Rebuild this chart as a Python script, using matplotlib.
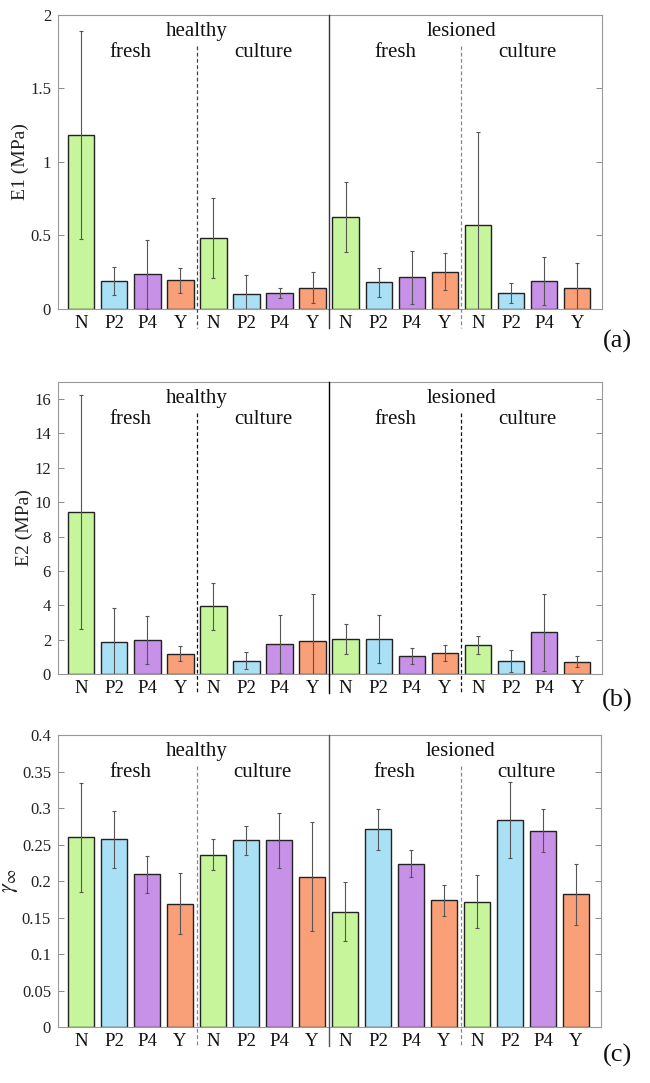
import matplotlib
matplotlib.use("Agg")
import matplotlib.pyplot as plt
from matplotlib.ticker import FixedLocator, FuncFormatter

# ---------------- data ----------------
bar_labels = ['N', 'P2', 'P4', 'Y'] * 4
conditions = ['healthy', 'lesioned']
subconditions = ['fresh', 'culture']

E1_mean = [1.184, 0.193, 0.236, 0.195, 0.481, 0.102, 0.109, 0.145,
           0.624, 0.181, 0.215, 0.254, 0.569, 0.109, 0.188, 0.143]
E1_std = [0.707, 0.095, 0.233, 0.087, 0.271, 0.127, 0.037, 0.104,
          0.238, 0.100, 0.180, 0.124, 0.637, 0.066, 0.163, 0.168]

E2_mean = [9.44, 1.84, 1.96, 1.18, 3.94, 0.78, 1.73, 1.94,
           2.04, 2.04, 1.03, 1.24, 1.71, 0.76, 2.42, 0.71]
E2_std = [6.82, 2.02, 1.40, 0.45, 1.36, 0.52, 1.68, 2.70,
          0.85, 1.39, 0.46, 0.46, 0.52, 0.66, 2.23, 0.32]

gamma_mean = [0.2598, 0.2575, 0.209, 0.169, 0.236, 0.256, 0.2557, 0.206,
              0.158, 0.2708, 0.224, 0.1735, 0.1717, 0.283, 0.269, 0.182]
gamma_std = [0.075, 0.039, 0.025, 0.042, 0.021, 0.020, 0.038, 0.075,
             0.040, 0.028, 0.019, 0.021, 0.036, 0.052, 0.029, 0.042]

ylabels = ['E1 (MPa)', 'E2 (MPa)', r'$\gamma_\infty$']
panel_tags = ['(a)', '(b)', '(c)']
ylims = [2.0, 17.0, 0.4]
yticks = [[0, 0.5, 1, 1.5, 2],
          [0, 2, 4, 6, 8, 10, 12, 14, 16],
          [0, 0.05, 0.1, 0.15, 0.2, 0.25, 0.3, 0.35, 0.4]]

# ---------------- style ----------------
colors = {'N': '#c6f59b', 'P2': '#aae0f5', 'P4': '#c891e8', 'Y': '#faa078'}
line_colors = [('#333333', '#444444', '#888888'),
               ('#000000', '#111111', '#111111'),
               ('#555555', '#888888', '#888888')]

plt.rcParams['font.family'] = ['Liberation Serif', 'DejaVu Serif']
plt.rcParams['mathtext.fontset'] = 'stix'

fig = plt.figure(figsize=(6.5, 10.83), dpi=100)
ax_rects = [[0.0892, 0.7147, 0.837, 0.2715],
            [0.0892, 0.3777, 0.837, 0.2696],
            [0.0892, 0.0517, 0.835, 0.2696]]
tag_y = [1083 - 341, 1083 - 700, 1083 - 1055]

means = [E1_mean, E2_mean, gamma_mean]
stds = [E1_std, E2_std, gamma_std]
xpos = list(range(1, len(bar_labels) + 1))

for i in range(3):
    ax = fig.add_axes(ax_rects[i])
    cols = [colors[l] for l in bar_labels]
    ax.bar(xpos, means[i], width=0.8, color=cols, edgecolor='#222222',
           linewidth=1.0, zorder=2)
    ax.errorbar(xpos, means[i], yerr=stds[i], fmt='none', ecolor='#555555',
                elinewidth=0.8, capsize=1.5, capthick=0.8, zorder=3)
    ax.set_xlim(0.3, 16.75)
    ax.set_ylim(0, ylims[i])
    ax.set_yticks(yticks[i])
    ax.yaxis.set_major_formatter(FuncFormatter(lambda v, p: '%g' % v))
    ax.set_xticks(xpos)
    ax.set_xticklabels(bar_labels, fontsize=13.5)
    ax.xaxis.set_minor_locator(FixedLocator([2, 4, 6, 8, 10, 12, 14, 16]))
    ax.tick_params(axis='x', which='major', length=0, pad=4, colors='#111111')
    ax.tick_params(axis='x', which='minor', direction='in', length=4,
                   top=True, bottom=True, color='#777777', width=0.6)
    ax.tick_params(axis='y', which='major', direction='in', length=4,
                   left=True, right=True, labelsize=12, color='#777777',
                   width=0.6, labelcolor='#222222', pad=5)
    for s in ax.spines.values():
        s.set_color('#999999')
        s.set_linewidth(0.8)
    ax.set_ylabel(ylabels[i], fontsize=14 if i < 2 else 16, labelpad=1,
                  color='#222222')

    trans = ax.get_xaxis_transform()
    solid_c, dash1_c, dash2_c = line_colors[i]
    ax.plot([8.5, 8.5], [1.0, -0.065], transform=trans, color=solid_c,
            lw=1.0, clip_on=False, zorder=4)
    ax.plot([4.5, 4.5], [0.895, -0.065], transform=trans, color=dash1_c,
            lw=0.9, ls=(0, (3, 2)), clip_on=False, zorder=4)
    ax.plot([12.5, 12.5], [0.895, -0.065], transform=trans, color=dash2_c,
            lw=0.9, ls=(0, (3, 2)), clip_on=False, zorder=4)

    for k, cond in enumerate(conditions):
        ax.text(4.5 + 8 * k, 0.945, cond, transform=trans, ha='center',
                va='center', fontsize=15, color='#111111')
        for j, sub in enumerate(subconditions):
            ax.text(2.5 + 8 * k + 4 * j, 0.873, sub, transform=trans,
                    ha='center', va='center', fontsize=15, color='#111111')

    fig.text(617 / 650, tag_y[i] / 1083, panel_tags[i], ha='center',
             va='center', fontsize=19, color='#111111')

fig.savefig('out.png', dpi=100)
